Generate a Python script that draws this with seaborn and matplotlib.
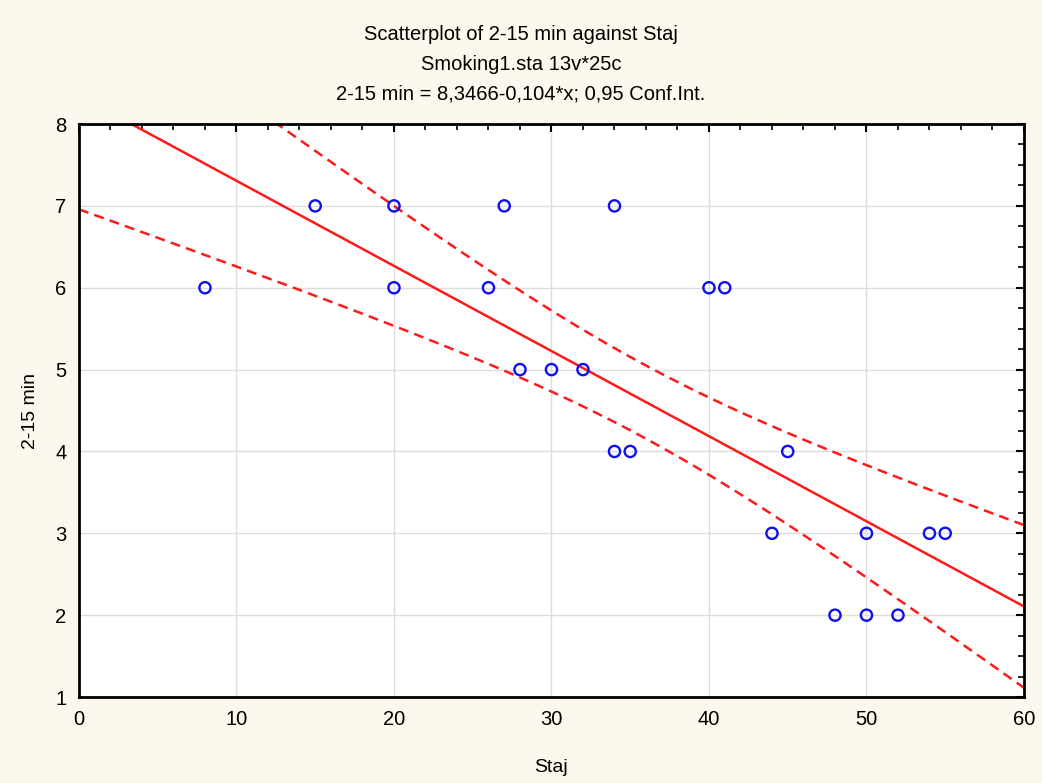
import numpy as np
import pandas as pd
import matplotlib
matplotlib.use("Agg")
import matplotlib.pyplot as plt
from matplotlib.ticker import MultipleLocator
import seaborn as sns

# Data (Staj vs 2-15 min)
staj = [8, 15, 20, 20, 26, 27, 28, 30, 32, 34, 34, 35, 40, 41, 44, 45, 48, 50, 50, 52, 54, 55]
min_2_15 = [6, 7, 7, 6, 6, 7, 5, 5, 5, 7, 4, 4, 6, 6, 3, 4, 2, 3, 2, 2, 3, 3]

# fitted line as printed in the title
intercept = 8.3466
slope = -0.104

titles = ["Scatterplot of 2-15 min against Staj",
          "Smoking1.sta 13v*25c",
          "2-15 min = 8,3466-0,104*x; 0,95 Conf.Int."]

df = pd.DataFrame({"Staj": staj, "2-15 min": min_2_15})

# 95% confidence band for the mean
x = np.asarray(staj, float)
y = np.asarray(min_2_15, float)
n = len(x)
resid = y - (intercept + slope * x)
s = np.sqrt((resid ** 2).sum() / (n - 2))
sxx = ((x - x.mean()) ** 2).sum()
t = 2.069  # t(0.975, 23), 25 cases
xs = np.linspace(0, 60, 121)
fit = intercept + slope * xs
half = t * s * np.sqrt(1 / 25 + (xs - x.mean()) ** 2 / sxx)
band = pd.DataFrame({"x": xs, "fit": fit, "lo": fit - half, "hi": fit + half})

sns.set_style("white")
plt.rcParams["font.family"] = ["Liberation Sans", "DejaVu Sans"]
plt.rcParams["text.color"] = "black"
plt.rcParams["axes.labelcolor"] = "black"
plt.rcParams["xtick.color"] = "black"
plt.rcParams["ytick.color"] = "black"

fig = plt.figure(figsize=(10.42, 7.83), dpi=100, facecolor="#fdf8ee")
ax = fig.add_axes([0.0758, 0.1098, 0.9069, 0.7318])
ax.set_facecolor("white")

red = "#ff1a1a"
sns.lineplot(data=band, x="x", y="fit", ax=ax, color=red, lw=1.8)
sns.lineplot(data=band, x="x", y="lo", ax=ax, color=red, lw=1.8, linestyle=(0, (4, 2.5)))
sns.lineplot(data=band, x="x", y="hi", ax=ax, color=red, lw=1.8, linestyle=(0, (4, 2.5)))
sns.scatterplot(data=df, x="Staj", y="2-15 min", ax=ax, s=65, facecolor="none",
                edgecolor="#1010ee", linewidth=1.7, zorder=5)

ax.set_xlim(0, 60)
ax.set_ylim(1, 8)
ax.xaxis.set_major_locator(MultipleLocator(10))
ax.xaxis.set_minor_locator(MultipleLocator(2))
ax.yaxis.set_major_locator(MultipleLocator(1))
ax.yaxis.set_minor_locator(MultipleLocator(0.25))
ax.grid(True, which="major", color="#dddddd", lw=1)
ax.set_axisbelow(True)
ax.tick_params(which="both", direction="in", top=True, right=True,
               labelsize=14.5, pad=9)
ax.tick_params(which="major", length=6, width=1.5)
ax.tick_params(which="minor", length=4, width=1.2)
for sp in ax.spines.values():
    sp.set_color("black")
    sp.set_linewidth(2)

ax.set_xlabel("Staj", fontsize=14, labelpad=22)
ax.set_ylabel("2-15 min", fontsize=14, labelpad=12)

for i, line in enumerate(titles):
    fig.text(0.5, 1 - (35 + 29.5 * i) / 783, line, ha="center", va="center", fontsize=14.5)

fig.savefig("out.png", dpi=100, facecolor=fig.get_facecolor())
